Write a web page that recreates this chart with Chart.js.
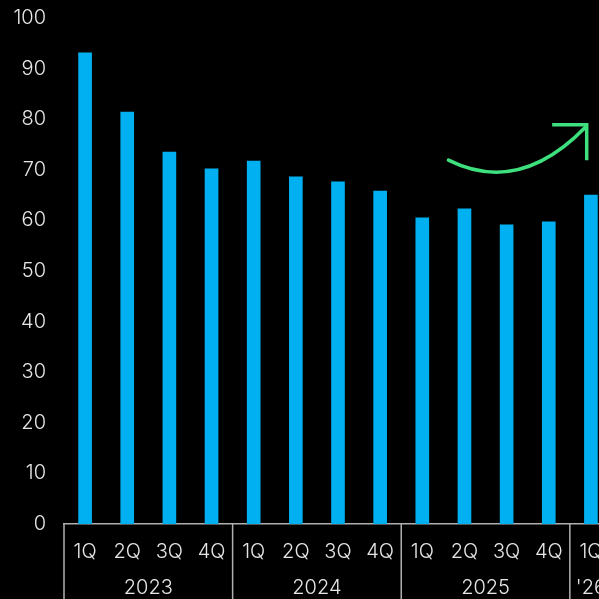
<!DOCTYPE html>
<html>
  <head>
    <meta charset="utf-8">
    <title>Quarterly bars</title>
    <style>
      html, body {
        margin: 0;
        padding: 0;
        background: #000;
        overflow: hidden;
      }
      #wrap {
        position: relative;
        width: 612px;
        height: 599px;
      }
    </style>
    <script src="https://cdn.jsdelivr.net/npm/chart.js@4/dist/chart.umd.min.js"></script>
  </head>
  <body>
    <div id="wrap"><canvas id="myChart"></canvas></div>

    <script type="text/javascript">
      var quarters = ['1Q', '2Q', '3Q', '4Q', '1Q', '2Q', '3Q', '4Q', '1Q', '2Q', '3Q', '4Q', '1Q'];
      var years = ['2023', '2024', '2025', "'26"];
      var yearSizes = [4, 4, 4, 1];
      var values = [93.1, 81.4, 73.5, 70.2, 71.7, 68.6, 67.6, 65.8, 60.5, 62.3, 59.1, 59.7, 65.0];
      var yTicks = [0, 10, 20, 30, 40, 50, 60, 70, 80, 90, 100];

      // curved arrow, in (category index, value) units
      var arrowStart = [8.62, 71.9];
      var arrowCtrl = [10.3, 64.9];
      var arrowEnd = [11.88, 78.5];
      var arrowHeadLeft = [11.08, 78.9];
      var arrowHeadDown = [11.9, 71.9];

      var textColor = '#e6e6e6';
      var lineColor = '#b0b0b0';
      var fontFamily = 'Inter, Roboto, sans-serif';
      var fontSize = 20;

      var groupPlugin = {
        id: 'groups',
        afterDraw: function (chart) {
          var ctx = chart.ctx;
          var x = chart.scales.x, y = chart.scales.y;
          var step = x.getPixelForValue(1) - x.getPixelForValue(0);
          var bottom = chart.chartArea.bottom;
          ctx.save();
          // group separators and year labels
          ctx.strokeStyle = lineColor;
          ctx.lineWidth = 1.5;
          ctx.fillStyle = textColor;
          ctx.font = '300 ' + fontSize + 'px ' + fontFamily;
          ctx.textAlign = 'center';
          ctx.textBaseline = 'middle';
          var idx = 0;
          for (var i = 0; i < years.length; i++) {
            var left = x.getPixelForValue(idx) - step / 2;
            ctx.beginPath();
            ctx.moveTo(left, bottom);
            ctx.lineTo(left, chart.height);
            ctx.stroke();
            var right = left + yearSizes[i] * step;
            ctx.fillText(years[i], (left + right) / 2, bottom + 64);
            idx += yearSizes[i];
          }
          var end = x.getPixelForValue(idx) - step / 2;
          ctx.beginPath();
          ctx.moveTo(end, bottom);
          ctx.lineTo(end, chart.height);
          ctx.stroke();

          // green arrow
          function px(p) { return [x.getPixelForValue(0) + p[0] * step, y.getPixelForValue(p[1])]; }
          var s = px(arrowStart), c = px(arrowCtrl), e = px(arrowEnd);
          var hl = px(arrowHeadLeft), hd = px(arrowHeadDown);
          ctx.strokeStyle = '#3ee07e';
          ctx.lineWidth = 3.5;
          ctx.lineCap = 'round';
          ctx.beginPath();
          ctx.moveTo(s[0], s[1]);
          ctx.quadraticCurveTo(c[0], c[1], e[0], e[1]);
          ctx.stroke();
          ctx.lineCap = 'butt';
          ctx.beginPath();
          ctx.moveTo(hl[0], hl[1]);
          ctx.lineTo(hd[0], hl[1]);
          ctx.lineTo(hd[0], hd[1]);
          ctx.stroke();
          ctx.restore();
        }
      };

      var ctx = document.getElementById('myChart').getContext('2d');
      var chart = new Chart(ctx, {
        type: 'bar',
        data: {
          labels: quarters,
          datasets: [{
            data: values,
            backgroundColor: '#00b0f0',
            barThickness: 13
          }]
        },
        options: {
          responsive: true,
          maintainAspectRatio: false,
          animation: false,
          layout: { padding: { top: 18, right: 0, left: 0, bottom: 0 } },
          plugins: {
            legend: { display: false },
            tooltip: { enabled: false }
          },
          scales: {
            x: {
              grid: { display: false },
              border: { display: true, color: lineColor, width: 1.5 },
              ticks: {
                color: textColor,
                font: { family: fontFamily, size: fontSize, weight: 300 },
                padding: 8,
                maxRotation: 0,
                autoSkip: false
              },
              afterFit: function (scale) {
                scale.height = 75;
                scale.paddingLeft = 0;
                scale.paddingRight = 0;
              }
            },
            y: {
              min: 0,
              max: 100,
              afterBuildTicks: function (scale) {
                scale.ticks = yTicks.map(function (v) { return { value: v }; });
              },
              grid: { display: false },
              border: { display: false },
              ticks: {
                color: textColor,
                font: { family: fontFamily, size: fontSize, weight: 300 },
                padding: 10
              },
              afterFit: function (scale) {
                scale.width = 64;
                scale.paddingTop = 0;
                scale.paddingBottom = 0;
              }
            }
          }
        },
        plugins: [groupPlugin]
      });
    </script>
  </body>
</html>
